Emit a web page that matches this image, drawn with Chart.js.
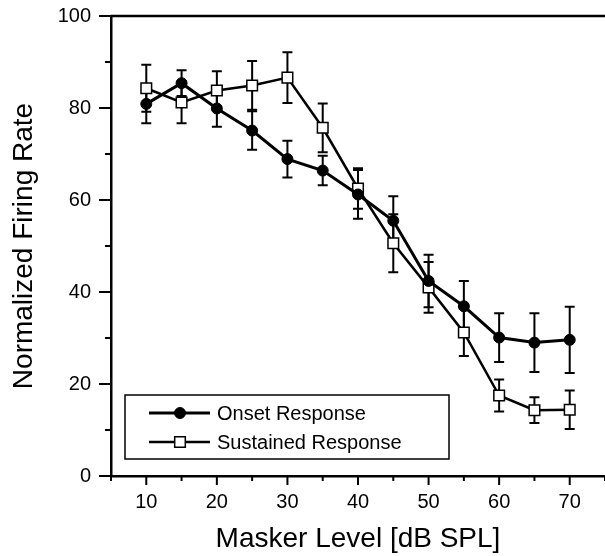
<!DOCTYPE html>
<html>
<head>
<meta charset="utf-8">
<script src="https://cdn.jsdelivr.net/npm/chart.js@4/dist/chart.umd.min.js"></script>
<style>
  html, body { margin: 0; padding: 0; background: #fff; }
  #wrap { width: 605px; height: 556px; }
</style>
</head>
<body>
<div id="wrap"><canvas id="c" width="605" height="556"></canvas></div>
<script>
// ---- data ----
const maskerLevels = [10, 15, 20, 25, 30, 35, 40, 45, 50, 55, 60, 65, 70];
const onsetRate     = [80.9, 85.4, 79.9, 75.1, 68.9, 66.4, 61.2, 55.5, 42.4, 36.9, 30.1, 29.0, 29.6];
const onsetErr      = [4.2, 2.8, 4.0, 4.2, 4.0, 3.2, 5.3, 5.3, 5.7, 5.5, 5.3, 6.4, 7.2];
const sustainedRate = [84.3, 81.2, 83.8, 84.9, 86.6, 75.7, 62.5, 50.6, 41.0, 31.2, 17.5, 14.3, 14.4];
const sustainedErr  = [5.1, 4.5, 4.2, 5.3, 5.5, 5.3, 4.4, 6.3, 5.5, 5.1, 3.5, 2.8, 4.2];
const seriesNames = ['Onset Response', 'Sustained Response'];
const xTickLabels = [10, 20, 30, 40, 50, 60, 70];
const yTickLabels = [0, 20, 40, 60, 80, 100];

const FONT = "'Liberation Sans', Arial, Helvetica, sans-serif";
const errs = [onsetErr, sustainedErr];

const errorBars = {
  id: 'errorBars',
  beforeDatasetsDraw(chart) {
    const ctx = chart.ctx, xs = chart.scales.x, ys = chart.scales.y;
    ctx.save();
    ctx.strokeStyle = '#000';
    ctx.lineWidth = 2;
    chart.data.datasets.forEach((ds, i) => {
      const e = errs[i];
      ds.data.forEach((p, j) => {
        const px = xs.getPixelForValue(p.x);
        const yt = ys.getPixelForValue(p.y + e[j]);
        const yb = ys.getPixelForValue(p.y - e[j]);
        ctx.beginPath();
        ctx.moveTo(px, yt); ctx.lineTo(px, yb);
        ctx.moveTo(px - 5, yt); ctx.lineTo(px + 5, yt);
        ctx.moveTo(px - 5, yb); ctx.lineTo(px + 5, yb);
        ctx.stroke();
      });
    });
    ctx.restore();
  }
};

const frameTicks = {
  id: 'frameTicks',
  afterDraw(chart) {
    const ctx = chart.ctx, xs = chart.scales.x, ys = chart.scales.y, a = chart.chartArea;
    ctx.save();
    ctx.strokeStyle = '#000';
    ctx.lineWidth = 2.5;
    ctx.beginPath(); ctx.moveTo(a.left, a.top); ctx.lineTo(a.right, a.top); ctx.stroke();
    ctx.lineWidth = 2;
    ctx.beginPath();
    xs.ticks.forEach(t => {
      if (t.value % 5 !== 0) return;
      const px = xs.getPixelForValue(t.value);
      const len = (t.value % 10 === 0) ? 9 : 5;
      ctx.moveTo(px, a.bottom); ctx.lineTo(px, a.bottom + len);
    });
    ys.ticks.forEach(t => {
      const py = ys.getPixelForValue(t.value);
      const len = (t.value % 20 === 0) ? 12 : 6;
      ctx.moveTo(a.left, py); ctx.lineTo(a.left - len, py);
    });
    ctx.stroke();
    ctx.restore();
  }
};

const boxLegend = {
  id: 'boxLegend',
  afterDraw(chart) {
    const ctx = chart.ctx;
    const bx = 125, by = 395, bw = 324, bh = 64;
    ctx.save();
    ctx.fillStyle = '#fff';
    ctx.fillRect(bx, by, bw, bh);
    ctx.strokeStyle = '#000';
    ctx.lineWidth = 1.5;
    ctx.strokeRect(bx, by, bw, bh);
    const rows = [413, 442];
    chart.data.datasets.forEach((ds, i) => {
      const y = rows[i];
      ctx.strokeStyle = '#000';
      ctx.lineWidth = ds.borderWidth;
      ctx.beginPath(); ctx.moveTo(149, y); ctx.lineTo(210, y); ctx.stroke();
      ctx.fillStyle = ds.pointBackgroundColor;
      ctx.lineWidth = ds.pointBorderWidth;
      ctx.beginPath();
      if (ds.pointStyle === 'circle') {
        ctx.arc(180, y, ds.pointRadius, 0, Math.PI * 2);
      } else {
        const s = ds.pointRadius * Math.SQRT1_2;
        ctx.rect(180 - s, y - s, 2 * s, 2 * s);
      }
      ctx.fill(); ctx.stroke();
      ctx.fillStyle = '#000';
      ctx.font = '20px ' + FONT;
      ctx.textBaseline = 'middle';
      ctx.textAlign = 'left';
      ctx.fillText(ds.label, 217, y + 1);
    });
    ctx.restore();
  }
};

new Chart(document.getElementById('c'), {
  type: 'line',
  data: {
    datasets: [
      {
        label: seriesNames[0],
        data: maskerLevels.map((x, i) => ({ x, y: onsetRate[i] })),
        borderColor: '#000', borderWidth: 3,
        pointStyle: 'circle', pointRadius: 5.5, pointBorderWidth: 1,
        pointBackgroundColor: '#000', pointBorderColor: '#000',
        tension: 0, fill: false
      },
      {
        label: seriesNames[1],
        data: maskerLevels.map((x, i) => ({ x, y: sustainedRate[i] })),
        borderColor: '#000', borderWidth: 2.5,
        pointStyle: 'rect', pointRadius: 7.5, pointBorderWidth: 1.5,
        pointBackgroundColor: '#fff', pointBorderColor: '#000',
        tension: 0, fill: false
      }
    ]
  },
  options: {
    responsive: false,
    animation: false,
    devicePixelRatio: 1,
    layout: { autoPadding: false, padding: { top: 16, right: -2, bottom: 0, left: 0 } },
    plugins: { legend: { display: false }, tooltip: { enabled: false } },
    scales: {
      x: {
        type: 'linear', min: 5, max: 75,
        afterFit(s) { s.height = 80; s.paddingLeft = 0; s.paddingRight = 0; },
        grid: { display: false, drawTicks: false },
        border: { display: true, color: '#000', width: 2.5 },
        ticks: {
          stepSize: 5, padding: 14, color: '#000', maxRotation: 0, autoSkip: false,
          font: { family: FONT, size: 20 },
          callback: v => xTickLabels.includes(v) ? String(v) : ''
        },
        title: {
          display: true, text: 'Masker Level [dB SPL]', color: '#000',
          font: { family: FONT, size: 28 }, padding: { top: 0, bottom: 0 }
        }
      },
      y: {
        type: 'linear', min: 0, max: 100,
        afterFit(s) { s.width = 111; s.paddingTop = 0; s.paddingBottom = 0; },
        grid: { display: false, drawTicks: false },
        border: { display: true, color: '#000', width: 2.5 },
        ticks: {
          stepSize: 10, padding: 20, color: '#000', autoSkip: false,
          font: { family: FONT, size: 20 },
          callback: v => yTickLabels.includes(v) ? String(v) : ''
        },
        title: {
          display: true, text: 'Normalized Firing Rate', color: '#000',
          font: { family: FONT, size: 28 }, padding: { top: 7, bottom: 0 }
        }
      }
    }
  },
  plugins: [errorBars, frameTicks, boxLegend]
});
</script>
</body>
</html>
